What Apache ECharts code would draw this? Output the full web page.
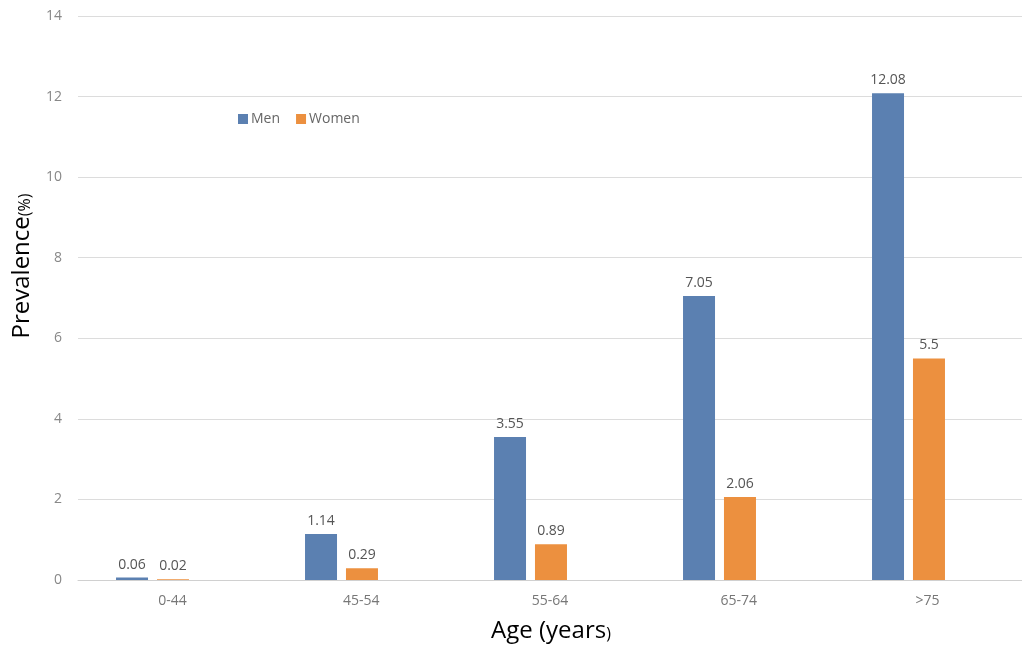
<!DOCTYPE html>
<html>
<head>
<meta charset="utf-8">
<script src="https://cdn.jsdelivr.net/npm/echarts@6/dist/echarts.min.js"></script>
<style>html,body{margin:0;padding:0;background:#fff;}#c{width:1022px;height:649px;}</style>
</head>
<body>
<div id="c"></div>
<script>
const categories = ['0-44', '45-54', '55-64', '65-74', '>75'];
const men = [0.06, 1.14, 3.55, 7.05, 12.08];
const women = [0.02, 0.29, 0.89, 2.06, 5.5];
const yTicks = { min: 0, max: 14, interval: 2 };

const chart = echarts.init(document.getElementById('c'));
const font = '"Open Sans", Lato, sans-serif';
chart.setOption({
  animation: false,
  textStyle: { fontFamily: font },
  legend: {
    data: ['Men', 'Women'],
    left: 233, top: 107,
    itemWidth: 10, itemHeight: 10, itemGap: 16,
    icon: 'rect',
    textStyle: { color: '#666', fontSize: 14, fontFamily: font, padding: [0, 0, 0, -2] }
  },
  grid: [
    { left: 78, right: 0, top: 16, bottom: 69 },
    { left: 58, width: 945, top: 16, bottom: 69 }
  ],
  xAxis: [
    { type: 'category', gridIndex: 0, data: categories,
      axisLine: { lineStyle: { color: '#d0d0d0' } },
      axisTick: { show: false },
      axisLabel: { color: '#777', fontSize: 14, margin: 14, fontFamily: font } },
    { type: 'category', gridIndex: 1, data: categories, show: false }
  ],
  yAxis: [
    { type: 'value', gridIndex: 0, min: yTicks.min, max: yTicks.max, interval: yTicks.interval,
      axisLine: { show: false }, axisTick: { show: false },
      splitLine: { lineStyle: { color: '#dcdcdc' } },
      axisLabel: { color: '#888', fontSize: 14, margin: 16, fontFamily: font } },
    { type: 'value', gridIndex: 1, min: yTicks.min, max: yTicks.max, interval: yTicks.interval, show: false,
      splitLine: { show: false } }
  ],
  series: [
    { name: 'Men', type: 'bar', xAxisIndex: 1, yAxisIndex: 1, data: men,
      barWidth: 32, barGap: '28%',
      itemStyle: { color: '#5b80b1' },
      label: { show: true, position: 'top', distance: 6, color: '#555', fontSize: 14, fontFamily: font } },
    { name: 'Women', type: 'bar', xAxisIndex: 1, yAxisIndex: 1, data: women,
      barWidth: 32, barGap: '28%',
      itemStyle: { color: '#ec903f' },
      label: { show: true, position: 'top', distance: 6, color: '#555', fontSize: 14, fontFamily: font } }
  ],
  graphic: [
    { type: 'text', x: 551, y: 631,
      style: { text: '{a|Age (years}{b|)}', align: 'center', verticalAlign: 'middle', rich: {
        a: { fontSize: 24, color: '#595959', fontFamily: font },
        b: { fontSize: 16, color: '#595959', fontFamily: font, padding: [7, 0, 0, 0] } } } },
    { type: 'text', x: 22, y: 266, rotation: Math.PI / 2,
      style: { text: '{a|Prevalence}{b|(%)}', align: 'center', verticalAlign: 'middle', rich: {
        a: { fontSize: 24, color: '#595959', fontFamily: font },
        b: { fontSize: 16, color: '#595959', fontFamily: font, padding: [7, 0, 0, 0] } } } }
  ]
});
</script>
</body>
</html>
